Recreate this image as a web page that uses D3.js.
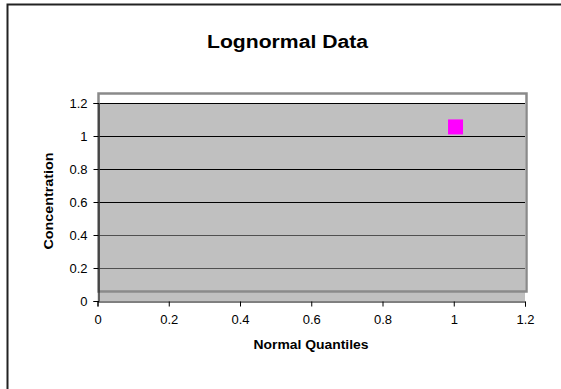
<!doctype html>
<html>
<head>
  <script src="https://d3js.org/d3.v7.min.js"></script>
  <style>
  body { margin: 0; background: #fff; }
  svg { font-family: Arial, "Liberation Sans", sans-serif; }
  </style>
</head>
<body>
  <script>
    // chart data
    var title = "Lognormal Data",
        xLabel = "Normal Quantiles",
        yLabel = "Concentration";

    var quantiles = [1.005],
        concentrations = [1.055];

    var xTicks = [0, 0.2, 0.4, 0.6, 0.8, 1, 1.2],
        yTicks = [0, 0.2, 0.4, 0.6, 0.8, 1, 1.2];

    var points = quantiles.map(function(q, i){
      return {x: q, y: concentrations[i]};
    });

    var width = 561,
        height = 389;

    var x = d3.scaleLinear()
        .domain([0, 1.2])
        .range([97.5, 525]);

    var y = d3.scaleLinear()
        .domain([0, 1.2])
        .range([301, 103]);

    var svg = d3.select("body").append("svg")
        .attr("width", width)
        .attr("height", height);

    // outer chart border (left and top only show)
    svg.append("path")
        .attr("d", "M7.5," + height + "V4.5H" + width)
        .attr("fill", "none")
        .attr("stroke", "#222")
        .attr("stroke-width", 2);

    svg.append("text")
        .attr("x", 287.5)
        .attr("y", 48)
        .attr("text-anchor", "middle")
        .attr("font-size", "18px")
        .attr("font-weight", "bold")
        .attr("textLength", 161)
        .attr("lengthAdjust", "spacingAndGlyphs")
        .text(title);

    // white part of the plot frame
    svg.append("rect")
        .attr("x", 98.5)
        .attr("y", 93.5)
        .attr("width", 428)
        .attr("height", 198)
        .attr("fill", "#fff");

    // plot area
    svg.append("rect")
        .attr("x", x(0))
        .attr("y", y(1.2))
        .attr("width", x(1.2) - x(0))
        .attr("height", y(0) - y(1.2))
        .attr("fill", "#c0c0c0");

    svg.append("g")
        .selectAll("line")
        .data(yTicks.filter(function(d){ return d > 0; }))
      .join("line")
        .attr("x1", x(0))
        .attr("x2", x(1.2))
        .attr("y1", function(d){ return Math.round(y(d)) + 0.5; })
        .attr("y2", function(d){ return Math.round(y(d)) + 0.5; })
        .attr("stroke", function(d){ return d < 0.5 ? "#505050" : "#000"; })
        .attr("stroke-width", 1);

    // frame of the plot area, offset like the original
    svg.append("rect")
        .attr("x", 98.5)
        .attr("y", 93.5)
        .attr("width", 428)
        .attr("height", 198)
        .attr("fill", "none")
        .attr("stroke", "#8a8a8a")
        .attr("stroke-width", 2.5);

    var xAxis = d3.axisBottom(x)
        .tickValues(xTicks)
        .tickSize(5)
        .tickPadding(8)
        .tickFormat(d3.format("~g"));

    var yAxis = d3.axisLeft(y)
        .tickValues(yTicks)
        .tickSize(5)
        .tickPadding(6)
        .tickFormat(d3.format("~g"));

    svg.append("g")
        .attr("transform", "translate(0," + (Math.round(y(0)) + 0.5) + ")")
        .call(xAxis)
        .call(function(g){ g.select(".domain").attr("stroke", "#000"); });

    svg.append("g")
        .attr("transform", "translate(" + (Math.round(x(0)) + 0.5) + ",0)")
        .call(yAxis)
        .call(function(g){ g.select(".domain").attr("stroke", "#000"); });

    svg.selectAll(".tick text")
        .attr("font-family", "Arial, 'Liberation Sans', sans-serif")
        .attr("font-size", "13px")
        .attr("fill", "#000");

    svg.append("g")
        .selectAll("rect")
        .data(points)
      .join("rect")
        .attr("x", function(d){ return x(d.x) - 7.5; })
        .attr("y", function(d){ return y(d.y) - 7.5; })
        .attr("width", 15)
        .attr("height", 15)
        .attr("fill", "#ff00ff");

    svg.append("text")
        .attr("x", 311)
        .attr("y", 349)
        .attr("text-anchor", "middle")
        .attr("font-size", "12px")
        .attr("font-weight", "bold")
        .attr("textLength", 115)
        .attr("lengthAdjust", "spacingAndGlyphs")
        .text(xLabel);

    svg.append("text")
        .attr("transform", "translate(53,201) rotate(-90)")
        .attr("text-anchor", "middle")
        .attr("font-size", "12px")
        .attr("font-weight", "bold")
        .attr("textLength", 97)
        .attr("lengthAdjust", "spacingAndGlyphs")
        .text(yLabel);
  </script>
</body>
</html>
